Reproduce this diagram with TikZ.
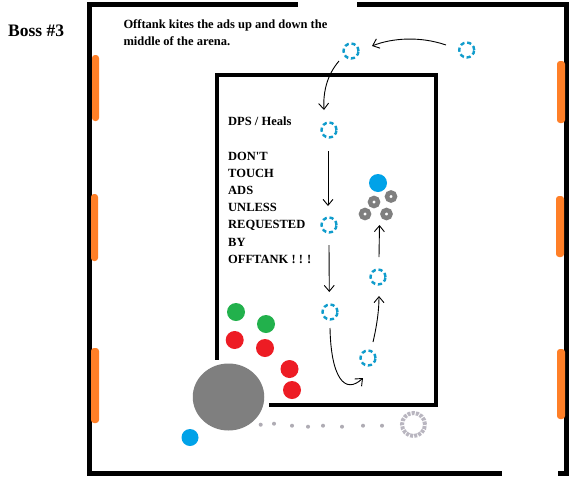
\documentclass[tikz,border=0pt]{standalone}
\usepackage{fontspec}
\newfontfamily\plainserif{Liberation Serif}
\usetikzlibrary{arrows.meta,calc,shapes.geometric}
\definecolor{wallorange}{RGB}{255,127,39}
\definecolor{pred}{RGB}{237,28,36}
\definecolor{pgreen}{RGB}{34,177,76}
\definecolor{pblue}{RGB}{0,162,232}
\definecolor{addblue}{RGB}{16,156,204}
\definecolor{pgray}{RGB}{127,127,127}
\definecolor{lgray}{RGB}{185,182,192}
\definecolor{dotgray}{RGB}{175,172,180}
\tikzset{
  wall/.style={fill=black,draw=none},
  door/.style={fill=wallorange,draw=none,rounded corners=3pt},
  addring/.style={circle,draw=addblue,line width=2.4pt,dash pattern=on 4.2pt off 2.8pt,minimum size=15pt,inner sep=0pt},
  player/.style={circle,fill=#1,draw=none,minimum size=18pt,inner sep=0pt},
  donut/.style={circle,draw=pgray,line width=4.5pt,minimum size=8pt,inner sep=0pt},
  trail/.style={circle,fill=dotgray,draw=none,minimum size=4pt,inner sep=0pt},
  arr/.style={line width=0.9pt,-{Straight Barb[length=6pt,width=10pt]}},
  txt/.style={anchor=base west,inner sep=0pt,font=\plainserif\bfseries\fontsize{12.5}{17}\selectfont}
}
\begin{document}
\begin{tikzpicture}[x=1pt,y=-1pt]
\useasboundingbox (0,0) rectangle (576,480);
\fill[white] (0,0) rectangle (576,480);
% outer walls
\fill[wall] (87,2) rectangle (297.7,7);
\fill[wall] (357,2) rectangle (569,7);
\fill[wall] (87,2) rectangle (92,476);
\fill[wall] (564,2) rectangle (569,476);
\fill[wall] (87,471) rectangle (502,476);
\fill[wall] (558,471) rectangle (569,476);
% inner wall
\fill[wall] (215,73) rectangle (438,77);
\fill[wall] (215,73) rectangle (219,360);
\fill[wall] (434,73) rectangle (438,407);
\fill[wall] (269,403) rectangle (438,407);
% doors / orange bars
\fill[door] (92,55) rectangle (99,121);
\fill[door] (91,194) rectangle (98,261);
\fill[door] (91,348) rectangle (99,423);
\fill[door] (557,61) rectangle (565,123);
\fill[door] (556,196) rectangle (564,257);
\fill[door] (557,349) rectangle (565,419);
% texts
\node[anchor=base west,inner sep=0pt,font=\plainserif\bfseries\fontsize{17.5}{20}\selectfont] (boss) at (8,36) {Boss \#3};
\node[txt] (desc1) at (123.3,28.3) {Offtank kites the ads up and down the};
\node[txt] (desc2) at (123.3,45) {middle of the arena.};
\node[txt] (dps) at (228,125.7) {DPS / Heals};
\foreach \w [count=\i] in {DON'T,TOUCH,ADS,UNLESS,REQUESTED,BY,OFFTANK ! ! !}
  \node[txt] (warn\i) at (228,{160+17.2*(\i-1)}) {\w};
% boss and players
\node[ellipse,fill=pgray,draw=none,minimum width=71.5pt,minimum height=67pt,inner sep=0pt] (boss3) at (228.5,397) {};
\node[player=pgreen] (g1) at (236,312) {};
\node[player=pgreen] (g2) at (266,324) {};
\node[player=pred] (r1) at (234.7,340) {};
\node[player=pred] (r2) at (265,348) {};
\node[player=pred] (r3) at (289.5,369) {};
\node[player=pred] (r4) at (292,390) {};
\node[player=pblue,minimum size=17pt] (tank) at (190,437.5) {};
% trail
\foreach \x/\y [count=\i] in {260.7/424.7,274/423.7,292/425.7,308/426.7,323/425.7,342/426.7,363/425.7,382/425.7}
  \node[trail] (d\i) at (\x,\y) {};
\node[circle,draw=lgray,line width=4pt,dash pattern=on 3pt off 1.2pt,minimum size=23pt,inner sep=0pt] (spawn) at (413.5,424.5) {};
% ads positions
\node[addring] (B) at (466.7,50) {};
\node[addring] (A) at (351,51) {};
\node[addring] (C) at (329,130) {};
\node[addring] (D) at (329,225) {};
\node[addring] (E) at (330,312) {};
\node[addring] (F) at (368,358) {};
\node[addring] (G) at (378,277) {};
% ad group
\node[player=pblue] (offtank) at (378,183) {};
\node[donut] (ad1) at (374,202) {};
\node[donut] (ad2) at (391,196.5) {};
\node[donut] (ad3) at (365,214) {};
\node[donut] (ad4) at (386.5,214) {};
% arrows
\draw[arr] ($(B)+(-20.7,-5)$) .. controls (420,36) and (392,38) .. ($(A)+(21,-5)$);
\draw[arr] ($(A)+(-12,10)$) .. controls (327,75) and (323,92) .. ($(C)+(-5,-20)$);
\draw[arr] ($(C)+(-1,21)$) -- ($(D)+(-1,-19)$);
\draw[arr] ($(D)+(0,20)$) -- ($(E)+(-0.7,-20)$);
\draw[arr] ($(E)+(0,16)$) .. controls (331,378) and (345,395) .. ($(F)+(-5,20)$);
\draw[arr] ($(F)+(5,-16)$) .. controls (377,325) and (379,310) .. ($(G)+(1,19)$);
\draw[arr] ($(G)+(1,-20)$) -- ($(ad4)+(-7,11)$);
\end{tikzpicture}
\end{document}
